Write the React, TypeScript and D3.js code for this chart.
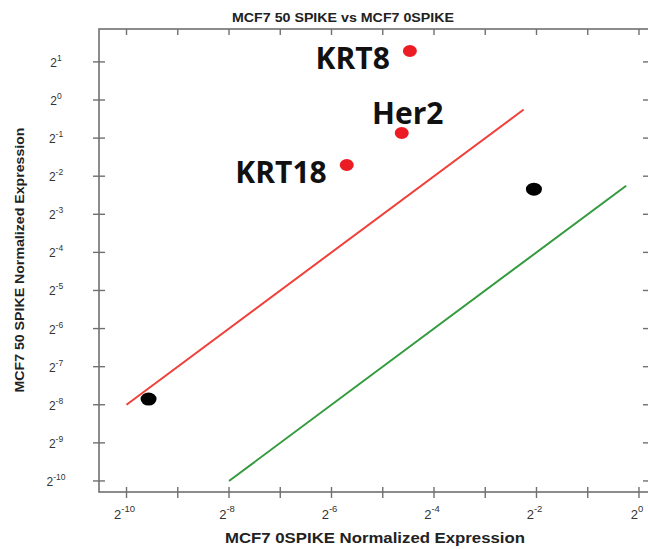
import React, { useRef, useEffect } from "react";
import * as d3 from "d3";

// labelled genes (red) and the other two probes (black), normalized expression
const geneNames = ["KRT8", "Her2", "KRT18"];
const geneX = [0.0451, 0.0404, 0.0192];
const geneY = [2.44, 0.548, 0.306];
const otherX = [0.2415, 0.001316];
const otherY = [0.1975, 0.004334];

// fold-change guide lines (4x above, 4x below)
const upperLine = [[Math.pow(2, -10), Math.pow(2, -8)], [Math.pow(2, -2.25), Math.pow(2, -0.25)]];
const lowerLine = [[Math.pow(2, -8), Math.pow(2, -10)], [Math.pow(2, -0.25), Math.pow(2, -2.25)]];

// tick exponents (base 2)
const xTickExps = [-10, -9, -8, -7, -6, -5, -4, -3, -2, -1, 0];
const xLabelExps = [-10, -8, -6, -4, -2, 0];
const yTickExps = [1, 0, -1, -2, -3, -4, -5, -6, -7, -8, -9, -10];

const title = "MCF7 50 SPIKE vs MCF7 0SPIKE";
const xTitle = "MCF7 0SPIKE Normalized Expression";
const yTitle = "MCF7 50 SPIKE Normalized Expression";

// label placement relative to each gene point
const labelPlacement = [
    { dx: -20, dy: 18, anchor: "end" },
    { dx: 6, dy: -9, anchor: "middle" },
    { dx: -20, dy: 18, anchor: "end" },
];

const ScatterPlot = ({ width = 648, height = 549 }) => {
    const svgRef = useRef(null);

    useEffect(() => {
        const svg = d3.select(svgRef.current);
        svg.selectAll("*").remove();

        // the plot box runs a little past the right edge of the picture
        const left = 99, right = 650, top = 29, bottom = 492;
        const axisColor = "#707070";

        const x = d3.scaleLog().base(2)
            .domain([Math.pow(2, -10.537), Math.pow(2, 0.215)])
            .range([left, right]);
        const y = d3.scaleLog().base(2)
            .domain([Math.pow(2, -10.29), Math.pow(2, 1.864)])
            .range([bottom, top]);

        svg.attr("width", width).attr("height", height);
        svg.append("rect").attr("width", width).attr("height", height).attr("fill", "#fff");

        // frame
        svg.append("rect")
            .attr("x", left).attr("y", top)
            .attr("width", right - left).attr("height", bottom - top)
            .attr("fill", "none").attr("stroke", axisColor).attr("stroke-width", 1.6);

        // bottom ticks (crossing the axis) and top ticks (inward)
        svg.append("g").selectAll("line").data(xTickExps).enter().append("line")
            .attr("x1", d => x(Math.pow(2, d))).attr("x2", d => x(Math.pow(2, d)))
            .attr("y1", bottom - 5).attr("y2", bottom + 6)
            .attr("stroke", axisColor).attr("stroke-width", 1.4);
        svg.append("g").selectAll("line").data(xTickExps).enter().append("line")
            .attr("x1", d => x(Math.pow(2, d))).attr("x2", d => x(Math.pow(2, d)))
            .attr("y1", top).attr("y2", top + 6)
            .attr("stroke", axisColor).attr("stroke-width", 1.4);

        // left ticks (crossing) and right ticks (inward)
        svg.append("g").selectAll("line").data(yTickExps).enter().append("line")
            .attr("y1", d => y(Math.pow(2, d))).attr("y2", d => y(Math.pow(2, d)))
            .attr("x1", left - 6).attr("x2", left + 6)
            .attr("stroke", axisColor).attr("stroke-width", 1.4);
        svg.append("g").selectAll("line").data(yTickExps).enter().append("line")
            .attr("y1", d => y(Math.pow(2, d))).attr("y2", d => y(Math.pow(2, d)))
            .attr("x1", right - 7).attr("x2", right)
            .attr("stroke", axisColor).attr("stroke-width", 1.4);

        // x tick labels
        const xl = svg.append("g")
            .attr("font-family", "Liberation Sans, Arial, sans-serif")
            .attr("fill", "#333")
            .selectAll("text").data(xLabelExps).enter().append("text")
            .attr("x", d => x(Math.pow(2, d)) - 2)
            .attr("y", 519)
            .attr("text-anchor", "middle")
            .attr("font-size", 13);
        xl.append("tspan").text("2");
        xl.append("tspan").attr("font-size", 9.5).attr("dy", -7).text(d => String(d));

        // y tick labels
        const yl = svg.append("g")
            .attr("font-family", "Liberation Sans, Arial, sans-serif")
            .attr("fill", "#333")
            .selectAll("text").data(yTickExps).enter().append("text")
            .attr("x", 56)
            .attr("y", d => y(Math.pow(2, d)) + 5)
            .attr("text-anchor", "middle")
            .attr("font-size", 12);
        yl.append("tspan").text("2");
        yl.append("tspan").attr("font-size", 8.5).attr("dy", -6).text(d => String(d));

        // titles
        svg.append("text")
            .attr("x", 343).attr("y", 22)
            .attr("text-anchor", "middle")
            .attr("font-family", "Liberation Sans, Arial, sans-serif")
            .attr("font-weight", "bold").attr("font-size", 12).attr("fill", "#222")
            .attr("textLength", 222).attr("lengthAdjust", "spacingAndGlyphs")
            .text(title);
        svg.append("text")
            .attr("x", 375).attr("y", 543)
            .attr("text-anchor", "middle")
            .attr("font-family", "Liberation Sans, Arial, sans-serif")
            .attr("font-weight", "bold").attr("font-size", 14).attr("fill", "#222")
            .attr("textLength", 300).attr("lengthAdjust", "spacingAndGlyphs")
            .text(xTitle);
        svg.append("text")
            .attr("transform", "translate(24, 260) rotate(-90)")
            .attr("text-anchor", "middle")
            .attr("font-family", "Liberation Sans, Arial, sans-serif")
            .attr("font-weight", "bold").attr("font-size", 13.5).attr("fill", "#222")
            .attr("textLength", 265).attr("lengthAdjust", "spacingAndGlyphs")
            .text(yTitle);

        // guide lines
        const line = d3.line().x(d => x(d[0])).y(d => y(d[1]));
        svg.append("path").datum(upperLine).attr("d", line)
            .attr("fill", "none").attr("stroke", "#f0403a").attr("stroke-width", 2);
        svg.append("path").datum(lowerLine).attr("d", line)
            .attr("fill", "none").attr("stroke", "#339a3e").attr("stroke-width", 2);

        // other points
        svg.append("g").selectAll("ellipse").data(otherX).enter().append("ellipse")
            .attr("cx", d => x(d)).attr("cy", (d, i) => y(otherY[i]))
            .attr("rx", 8).attr("ry", 6.5).attr("fill", "#000");

        // gene points and labels
        svg.append("g").selectAll("ellipse").data(geneX).enter().append("ellipse")
            .attr("cx", d => x(d)).attr("cy", (d, i) => y(geneY[i]))
            .attr("rx", 7).attr("ry", 6).attr("fill", "#ec1c24");
        svg.append("g").selectAll("text").data(geneNames).enter().append("text")
            .attr("x", (d, i) => x(geneX[i]) + labelPlacement[i].dx)
            .attr("y", (d, i) => y(geneY[i]) + labelPlacement[i].dy)
            .attr("text-anchor", (d, i) => labelPlacement[i].anchor)
            .attr("font-family", "Open Sans, sans-serif")
            .attr("font-weight", "bold").attr("font-size", 30).attr("fill", "#111")
            .text(d => d);
    }, [width, height]);

    return <svg ref={svgRef} style={{ display: "block" }}></svg>;
};

export default function App() {
    return (
        <div style={{ position: "absolute", left: 0, top: 0 }}>
            <ScatterPlot />
        </div>
    );
}
